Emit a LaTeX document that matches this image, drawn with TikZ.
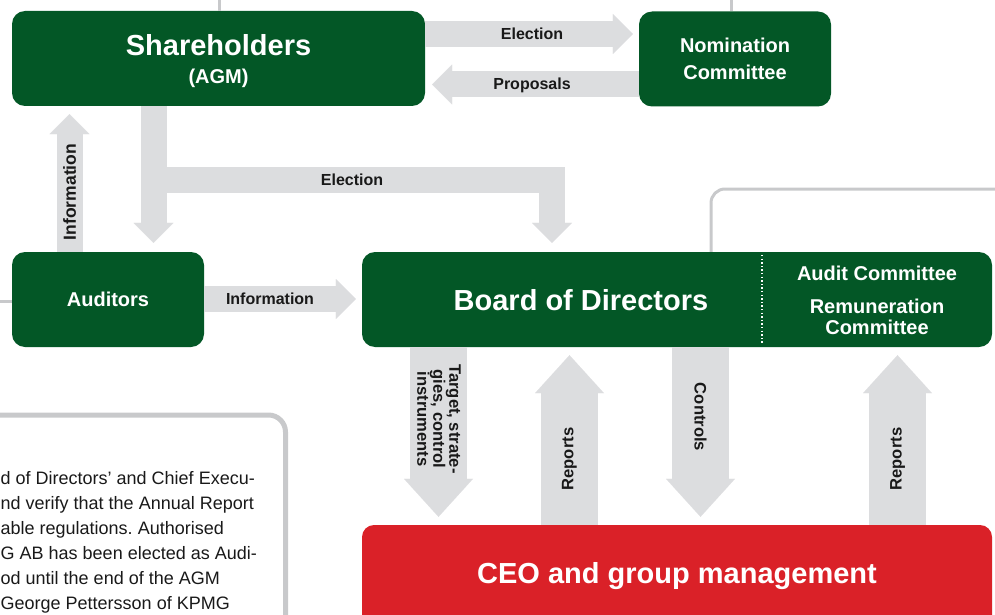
\documentclass[tikz,border=0pt]{standalone}
\usepackage{fontspec}
\setmainfont{Liberation Sans}
\usetikzlibrary{arrows.meta}
\frenchspacing

\definecolor{boardgreen}{RGB}{3,87,38}
\definecolor{mgmtred}{RGB}{218,33,40}
\definecolor{flowgray}{RGB}{220,221,223}
\definecolor{rulegray}{RGB}{200,201,203}
\definecolor{inkblack}{RGB}{25,25,25}

\tikzset{
  greenbox/.style={fill=boardgreen, rounded corners=13pt, inner sep=0pt, text=white, align=center},
  redbox/.style={fill=mgmtred, rounded corners=12pt, inner sep=0pt},
  bigtext/.style={text=white, inner sep=0pt, anchor=base, font=\bfseries\fontsize{29}{29}\selectfont},
  midtext/.style={font=\bfseries\fontsize{20}{27}\selectfont},
  flow/.style={draw=flowgray, line width=26pt, -{Triangle[length=20pt,width=40pt,line width=0.01pt]}},
  bigflow/.style={draw=flowgray, line width=57pt, -{Triangle[length=38pt,width=69pt,line width=0.01pt]}},
  flowlabel/.style={text=inkblack, inner sep=0pt, anchor=base, font=\bfseries\fontsize{16}{16}\selectfont},
  vlabel/.style={text=inkblack, inner sep=0pt, align=center, font=\bfseries\fontsize{16.6}{16.5}\selectfont},
  rule/.style={draw=rulegray, line width=3pt},
}

\begin{document}
\begin{tikzpicture}[x=1pt,y=-1pt]
\useasboundingbox (0,0) rectangle (995,615);

% ---- boxes ----
\node[greenbox, minimum width=413pt, minimum height=95pt] (sh) at (218.5,58.5) {};
\node[greenbox, midtext, minimum width=192pt, minimum height=95pt] (nom) at (735,59) {Nomination\\Committee};
\node[greenbox, midtext, minimum width=192pt, minimum height=95pt] (aud) at (108,299.5) {Auditors};
\node[greenbox, minimum width=630pt, minimum height=95pt] (bod) at (677,299.5) {};
\node[redbox, minimum width=630pt, minimum height=120pt] (ceo) at (677,585) {};

% ---- box texts ----
\node[bigtext] (shName) at (218.5,56) {Shareholders};
\node[bigtext, font=\bfseries\fontsize{20}{20}\selectfont] (shSub) at (218.5,84) {(AGM)};
\node[bigtext] (bodName) at (581,310.5) {Board of Directors};
\node[text=white, inner sep=0pt, midtext] (audc) at (877,273) {Audit Committee};
\node[text=white, inner sep=0pt, align=center, font=\bfseries\fontsize{20}{21}\selectfont] (remc) at (877,316.5) {Remuneration\\Committee};
\node[bigtext] (ceoName) at (677,583) {CEO and group management};

% dotted divider inside the board box
\coordinate (divTop) at (762,255);
\coordinate (divBot) at (762,344);
\draw[white, line width=1.4pt, dash pattern=on 1.4pt off 2.2pt] (divTop) -- (divBot);

% ---- thin grey rules leading out of the picture ----
\coordinate (shTop) at (219,0);
\draw[rule] (shTop) -- (shTop |- sh.north);
\coordinate (nomTop) at (731,0);
\draw[rule] (nomTop) -- (nomTop |- nom.north);
\coordinate (leftEdge) at (0,301);
\draw[rule] (leftEdge) -- (leftEdge -| aud.west);
\coordinate (rc) at (711,189);
\coordinate (frameEnd) at (1000,189);
\draw[rule, rounded corners=14pt] (rc |- bod.north) |- (frameEnd);

% ---- flows between shareholders, nomination committee, auditors and board ----
\coordinate (e1) at (0,34);
\draw[flow, shorten >=6pt] (e1 -| sh.east) -- (e1 -| nom.west);
\coordinate (p1) at (0,84.5);
\draw[flow, shorten >=7pt] (p1 -| nom.west) -- (p1 -| sh.east);
\coordinate (iu) at (69.5,0);
\draw[flow, shorten >=8pt] (iu |- aud.north) -- (iu |- sh.south);
\coordinate (sd) at (153.5,0);
\draw[flow, shorten >=9pt] (sd |- sh.south) -- (sd |- aud.north);
\coordinate (ec) at (552,179.5);
\draw[flow, shorten >=9pt] (sd |- ec) -- (ec) -- (ec |- bod.north);
\coordinate (ih) at (0,299);
\draw[flow, shorten >=6pt] (ih -| aud.east) -- (ih -| bod.west);

% ---- flows between board and management ----
\coordinate (tg) at (438.5,0);
\draw[bigflow, shorten >=8pt] (tg |- bod.south) -- (tg |- ceo.north);
\coordinate (rp1) at (569.5,0);
\draw[bigflow, shorten >=8pt] (rp1 |- ceo.north) -- (rp1 |- bod.south);
\coordinate (ct) at (700.5,0);
\draw[bigflow, shorten >=8pt] (ct |- bod.south) -- (ct |- ceo.north);
\coordinate (rp2) at (897.5,0);
\draw[bigflow, shorten >=8pt] (rp2 |- ceo.north) -- (rp2 |- bod.south);

% ---- flow labels ----
\node[flowlabel] (lbElect) at (532,39.5) {Election};
\node[flowlabel] (lbProp) at (532,90) {Proposals};
\node[flowlabel] (lbElectB) at (352,185.5) {Election};
\node[flowlabel] (lbInfo) at (270,304.5) {Information};
\node[vlabel, rotate=90, font=\bfseries\fontsize{17.5}{17}\selectfont] (lbInfoV) at (69.5,192) {Information};
\node[vlabel, rotate=-90, font=\bfseries\fontsize{16.6}{16}\selectfont] (lbTarget) at (439,419) {Target, strate-\\gies, control\\instruments};
\node[vlabel, rotate=90] (lbRepA) at (569.5,459) {Reports};
\node[vlabel, rotate=-90] (lbCtrl) at (700.5,417) {Controls};
\node[vlabel, rotate=90] (lbRepB) at (897.5,459) {Reports};

% ---- auditors note panel ----
\node[draw=rulegray, line width=5pt, rounded corners=17pt, minimum width=305pt, minimum height=245pt, inner sep=0pt] (notePanel) at (133,537.5) {};
\node[anchor=base west, align=left, inner sep=0pt, text=inkblack, font=\fontsize{18}{25}\selectfont] (noteText) at (0.5,609)
  {d of Directors’ and Chief Execu-\\nd verify that the Annual Report\\able regulations. Authorised\\G AB has been elected as Audi-\\od until the end of the AGM\\George Pettersson of KPMG};
\end{tikzpicture}
\end{document}
